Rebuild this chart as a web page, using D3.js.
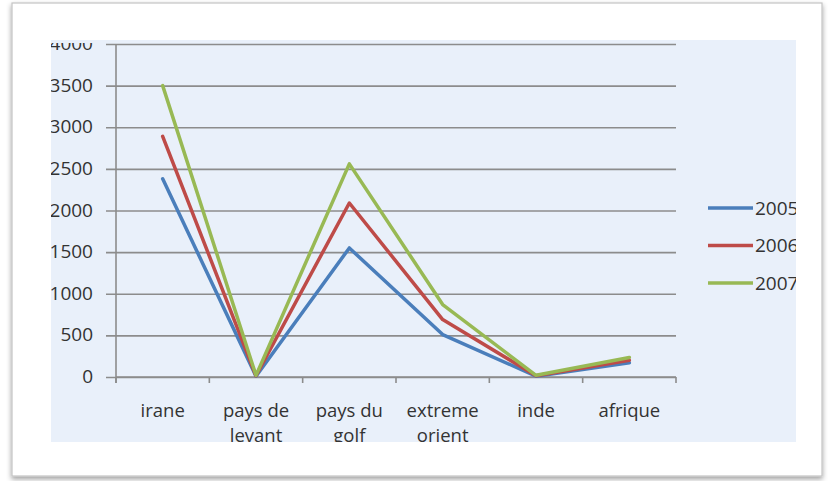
<!DOCTYPE html>
<html>
<head>
<meta charset="utf-8">
<script src="https://cdn.jsdelivr.net/npm/d3@7"></script>
<style>
  html, body { margin: 0; padding: 0; background: #ffffff; }
  svg { display: block; }
  text { font-family: "Open Sans", Lato, sans-serif; fill: #333333; }
</style>
</head>
<body>
<svg id="chart" width="830" height="481"></svg>
<script>
// Regions (x categories)
const categories = ["irane", "pays de levant", "pays du golf", "extreme orient", "inde", "afrique"];
// Label lines under each category
const categoryLines = [["irane"], ["pays de", "levant"], ["pays du", "golf"], ["extreme", "orient"], ["inde"], ["afrique"]];
// One series per year
const seriesNames = ["2005", "2006", "2007"];
const values2005 = [2380, 10, 1550, 510, 10, 170];
const values2006 = [2890, 15, 2090, 690, 15, 200];
const values2007 = [3500, 20, 2560, 870, 20, 235];
const seriesColors = ["#4A7EBB", "#BE4B48", "#98B954"];
// Value axis ticks
const yTicks = [0, 500, 1000, 1500, 2000, 2500, 3000, 3500, 4000];

const series = [values2005, values2006, values2007].map((v, i) => ({ name: seriesNames[i], values: v, color: seriesColors[i] }));

const FS = 19;
const CAT_FS = 18.5;
const CAT_LINE = 25.4;

const svg = d3.select("#chart");
const defs = svg.append("defs");

// Soft shadow for the card
const shadow = defs.append("filter").attr("id", "cardShadow")
  .attr("x", "-5%").attr("y", "-5%").attr("width", "110%").attr("height", "115%");
shadow.append("feDropShadow").attr("dx", 0).attr("dy", 2.5).attr("stdDeviation", 2.4)
  .attr("flood-color", "#000").attr("flood-opacity", 0.38);

// Chart area and its clip
const area = { x: 51, y: 40, w: 745, h: 402 };
defs.append("clipPath").attr("id", "areaClip")
  .append("rect").attr("x", area.x).attr("y", area.y).attr("width", area.w).attr("height", area.h);
// The value labels are cut a little lower at the top
defs.append("clipPath").attr("id", "labelClip")
  .append("rect").attr("x", area.x).attr("y", 43).attr("width", 60).attr("height", area.h);

// Card
svg.append("rect")
  .attr("x", 12).attr("y", 3).attr("width", 810).attr("height", 473)
  .attr("fill", "#ffffff").attr("stroke", "#c4c4c4").attr("stroke-width", 1.2)
  .attr("filter", "url(#cardShadow)");

const g = svg.append("g").attr("clip-path", "url(#areaClip)");

// Chart area fill
g.append("rect")
  .attr("x", area.x).attr("y", area.y).attr("width", area.w).attr("height", area.h)
  .attr("fill", "#E9F0FA");

const plot = { left: 116, right: 676, top: 44, bottom: 377 };

const x = d3.scaleBand().domain(categories).range([plot.left, plot.right]).padding(0);
const y = d3.scaleLinear().domain([0, 4000]).range([plot.bottom, plot.top]);

// Horizontal gridlines with left tick marks (labels drawn separately)
const yAxis = d3.axisLeft(y).tickValues(yTicks).tickFormat("")
  .tickSize(-(plot.right - plot.left)).tickSizeOuter(0);
const yg = g.append("g").attr("transform", `translate(${plot.left},0)`).call(yAxis);
yg.select(".domain").remove();
yg.selectAll(".tick text").remove();
yg.selectAll(".tick line")
  .attr("x1", -10)
  .attr("stroke", "#8c8c8c").attr("stroke-width", 1.6);

// Value labels
const fmt = d3.format("d");
g.append("g").attr("clip-path", "url(#labelClip)")
  .selectAll("text").data(yTicks).join("text")
  .attr("x", plot.left - 23).attr("y", d => y(d)).attr("dy", "0.32em")
  .attr("text-anchor", "end").attr("font-size", FS)
  .text(d => fmt(d));

// Vertical axis line
g.append("line")
  .attr("x1", plot.left).attr("x2", plot.left)
  .attr("y1", y(4000)).attr("y2", plot.bottom + 6)
  .attr("stroke", "#8c8c8c").attr("stroke-width", 1.6);

// Category axis with ticks at band boundaries
const xg = g.append("g").attr("transform", `translate(0,${plot.bottom})`);
xg.append("line").attr("x1", plot.left).attr("x2", plot.right)
  .attr("stroke", "#8c8c8c").attr("stroke-width", 1.6);
const boundaries = categories.map(c => x(c)).concat([x(categories[categories.length - 1]) + x.bandwidth()]);
xg.selectAll("line.tk").data(boundaries).join("line").attr("class", "tk")
  .attr("x1", d => d).attr("x2", d => d).attr("y1", 0).attr("y2", 6)
  .attr("stroke", "#8c8c8c").attr("stroke-width", 1.6);

// Category labels, one text per line
const labelRows = categories.flatMap((c, i) => categoryLines[i].map((t, j) => ({ c, t, j })));
xg.selectAll("text.cat").data(labelRows).join("text").attr("class", "cat")
  .attr("x", d => x(d.c) + x.bandwidth() / 2)
  .attr("y", d => 40 + d.j * CAT_LINE)
  .attr("text-anchor", "middle").attr("font-size", CAT_FS)
  .text(d => d.t);

// Series lines
const line = d3.line()
  .x((v, i) => x(categories[i]) + x.bandwidth() / 2)
  .y(v => y(v));

g.selectAll("path.series").data(series).join("path").attr("class", "series")
  .attr("d", d => line(d.values))
  .attr("fill", "none")
  .attr("stroke", d => d.color)
  .attr("stroke-width", 3.5)
  .attr("stroke-linejoin", "round")
  .attr("stroke-linecap", "round");

// Legend
const legend = g.append("g").selectAll("g").data(series).join("g")
  .attr("transform", (d, i) => `translate(708,${208 + i * 37.5})`);
legend.append("line").attr("x1", 0).attr("x2", 45)
  .attr("stroke", d => d.color).attr("stroke-width", 3.5);
legend.append("text").attr("x", 47).attr("dy", "0.35em")
  .attr("font-size", FS).text(d => d.name);
</script>
</body>
</html>
